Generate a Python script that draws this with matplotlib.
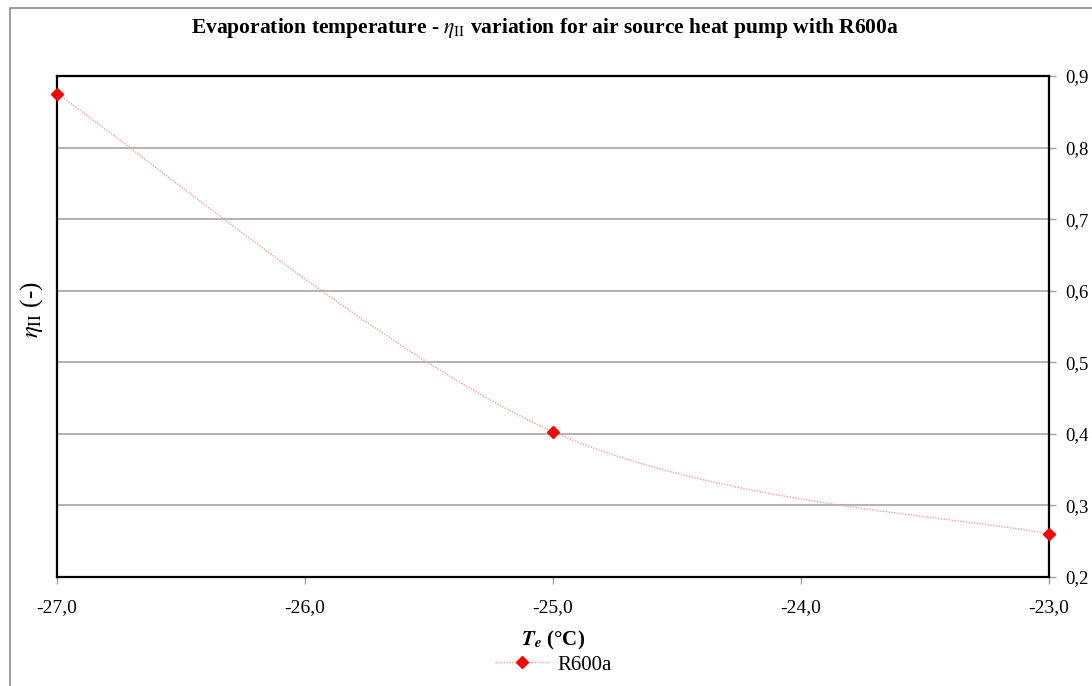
import matplotlib
matplotlib.use("Agg")
import matplotlib.pyplot as plt
from matplotlib.path import Path
from matplotlib.patches import PathPatch, Rectangle
from matplotlib.ticker import FuncFormatter

plt.rcParams["font.family"] = ["Liberation Serif", "DejaVu Serif"]
plt.rcParams["mathtext.fontset"] = "stix"

# evaporation temperature (°C) and second-law efficiency
te = [-27.0, -25.0, -23.0]
eta_ii = [0.875, 0.403, 0.260]
series_name = "R600a"

x_ticks = [-27.0, -26.0, -25.0, -24.0, -23.0]
y_ticks = [0.2, 0.3, 0.4, 0.5, 0.6, 0.7, 0.8, 0.9]


def smooth_path(xs, ys, k=1.0 / 6.0):
    """Cubic Bezier through the points, spreadsheet-style smoothing."""
    pts = list(zip(xs, ys))
    verts = [pts[0]]
    codes = [Path.MOVETO]
    n = len(pts)
    for i in range(n - 1):
        p0 = pts[i - 1] if i > 0 else pts[i]
        p1 = pts[i]
        p2 = pts[i + 1]
        p3 = pts[i + 2] if i + 2 < n else pts[i + 1]
        c1 = (p1[0] + (p2[0] - p0[0]) * k, p1[1] + (p2[1] - p0[1]) * k)
        c2 = (p2[0] - (p3[0] - p1[0]) * k, p2[1] - (p3[1] - p1[1]) * k)
        verts += [c1, c2, p2]
        codes += [Path.CURVE4] * 3
    return Path(verts, codes)


fig = plt.figure(figsize=(10.92, 6.86), dpi=100)
W, H = 1092, 686
left, right, top, bottom = 57, 1049, 76, 577
ax = fig.add_axes([left / W, 1 - bottom / H, (right - left) / W, (bottom - top) / H])

# outer chart frame
fig.patches.append(Rectangle((10 / W, -0.05), 1.1, 1 - 8 / H + 0.05,
                             transform=fig.transFigure, fill=False,
                             edgecolor="#8c8c8c", linewidth=1.2))

line_color = "#f4a0a0"
ax.add_patch(PathPatch(smooth_path(te, eta_ii), fill=False, edgecolor=line_color,
                       linewidth=1.0, linestyle=(0, (1, 1)), zorder=3))
ax.plot(te, eta_ii, linestyle="none", marker="D", markersize=6.5,
        color="#ff0000", zorder=4, clip_on=False)
# legend handle: dotted line with diamond
ax.plot([], [], linestyle=(0, (1, 1)), color=line_color, linewidth=1.0,
        marker="D", markersize=6.5, markerfacecolor="#ff0000",
        markeredgecolor="#ff0000", label=series_name)

ax.set_xlim(x_ticks[0], x_ticks[-1])
ax.set_ylim(y_ticks[0], y_ticks[-1])
ax.set_xticks(x_ticks)
ax.set_yticks(y_ticks)
comma = FuncFormatter(lambda v, p: f"{v:.1f}".replace(".", ","))
ax.xaxis.set_major_formatter(comma)
ax.yaxis.set_major_formatter(comma)
ax.yaxis.tick_right()
ax.tick_params(axis="both", color="#a0a0a0", length=5, width=1, direction="out")
ax.tick_params(axis="x", labelsize=14, pad=11)
ax.tick_params(axis="y", labelsize=13.5, pad=7)

ax.grid(axis="y", color="#a6a6a6", linewidth=1.2)
ax.set_axisbelow(True)
for s in ax.spines.values():
    s.set_color("black")
    s.set_linewidth(1.6)

ax.set_xlabel(r"$\mathbfit{T}_{\mathbfit{e}}$ (°C)", fontsize=15, fontweight="bold",
              labelpad=9)
fig.text(32 / W, 1 - 310 / H, r"$\eta_{\mathrm{II}}$ (-)", rotation=90,
         ha="center", va="center", fontsize=18)

fig.text(545 / W, 1 - 28 / H,
         r"Evaporation temperature - $\eta_{\mathrm{II}}$ variation for air source heat pump with R600a",
         ha="center", va="center", fontsize=15.5, fontweight="bold")

ax.legend(loc="upper center", bbox_to_anchor=(0.5, -0.135), frameon=False,
          fontsize=15, handlelength=2.6, handletextpad=0.4, borderpad=0)

fig.savefig("out.png", dpi=100)
